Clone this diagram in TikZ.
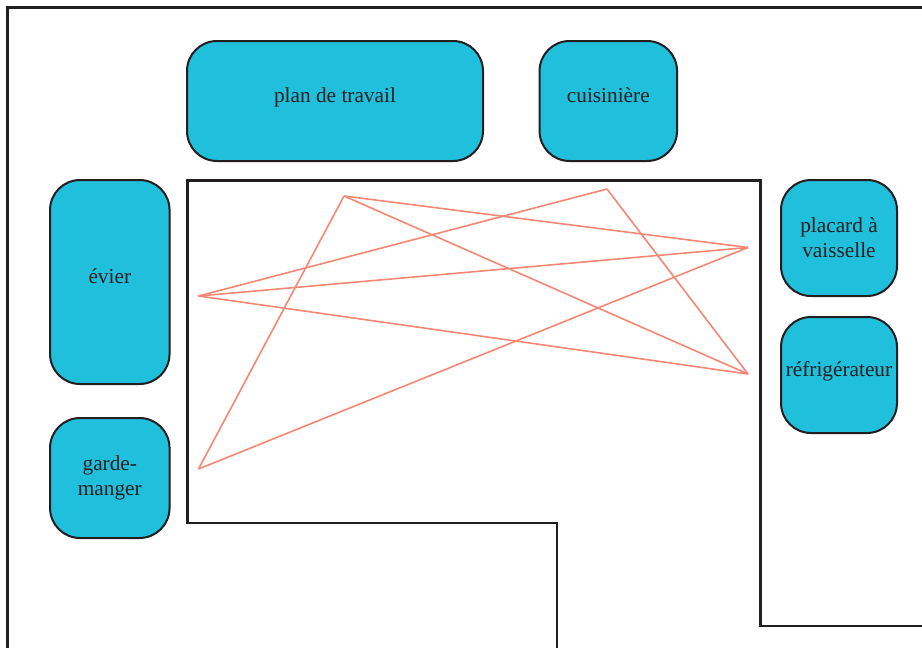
\documentclass[tikz,border=0pt]{standalone}
\usepackage{fontspec}
\setmainfont{Liberation Serif}
\definecolor{meuble}{RGB}{32,191,219}
\definecolor{trait}{RGB}{35,31,32}
\definecolor{parcours}{RGB}{244,135,115}

\begin{document}
\begin{tikzpicture}[x=1pt,y=-1pt]
\tikzset{bloc/.style={draw=trait, line width=2, fill=meuble, rounded corners=30,
align=center, text=trait, inner sep=0,
font=\fontsize{21.3}{25}\selectfont},
ligne/.style={text height=16, text depth=14},
mur/.style={draw=trait, line width=2.8},
trajet/.style={draw=parcours, line width=1.6},
}
\useasboundingbox (0,0) rectangle (922,648);

\draw[mur] (7.5,648) -- (7.5,7.5) -- (922,7.5);
\draw[mur] (922,626) -- (760.5,626) -- (760.5,180.5) -- (187.5,180.5)
  -- (187.5,523) -- (557,523) -- (557,648);

\node[bloc, ligne, minimum width=296, minimum height=120] (plan) at (335,101) {plan de travail};
\node[bloc, ligne, minimum width=137.5, minimum height=120] (cuisiniere) at (608.3,101) {cuisinière};
\node[bloc, ligne, minimum width=119.5, minimum height=204] (evier) at (109.8,282) {évier};
\node[bloc, minimum width=119.5, minimum height=120] (garde) at (109.8,478) {garde-\\manger};
\node[bloc, minimum width=116, minimum height=116] (placard) at (839,238) {placard à\\vaisselle};
\node[bloc, ligne, minimum width=116, minimum height=116] (frigo) at (839,375) {réfrigérateur};

\coordinate (pevier) at (198.5,296);
\coordinate (pplan) at (344,196);
\coordinate (pcuisiniere) at (607,189);
\coordinate (pplacard) at (748,247.5);
\coordinate (pfrigo) at (748,374);
\coordinate (pgarde) at (198.5,469);

\draw[trajet] (pevier) -- (pcuisiniere);
\draw[trajet] (pevier) -- (pplacard);
\draw[trajet] (pevier) -- (pfrigo);
\draw[trajet] (pplan) -- (pgarde);
\draw[trajet] (pplan) -- (pplacard);
\draw[trajet] (pplan) -- (pfrigo);
\draw[trajet] (pcuisiniere) -- (pfrigo);
\draw[trajet] (pgarde) -- (pplacard);
\end{tikzpicture}
\end{document}
